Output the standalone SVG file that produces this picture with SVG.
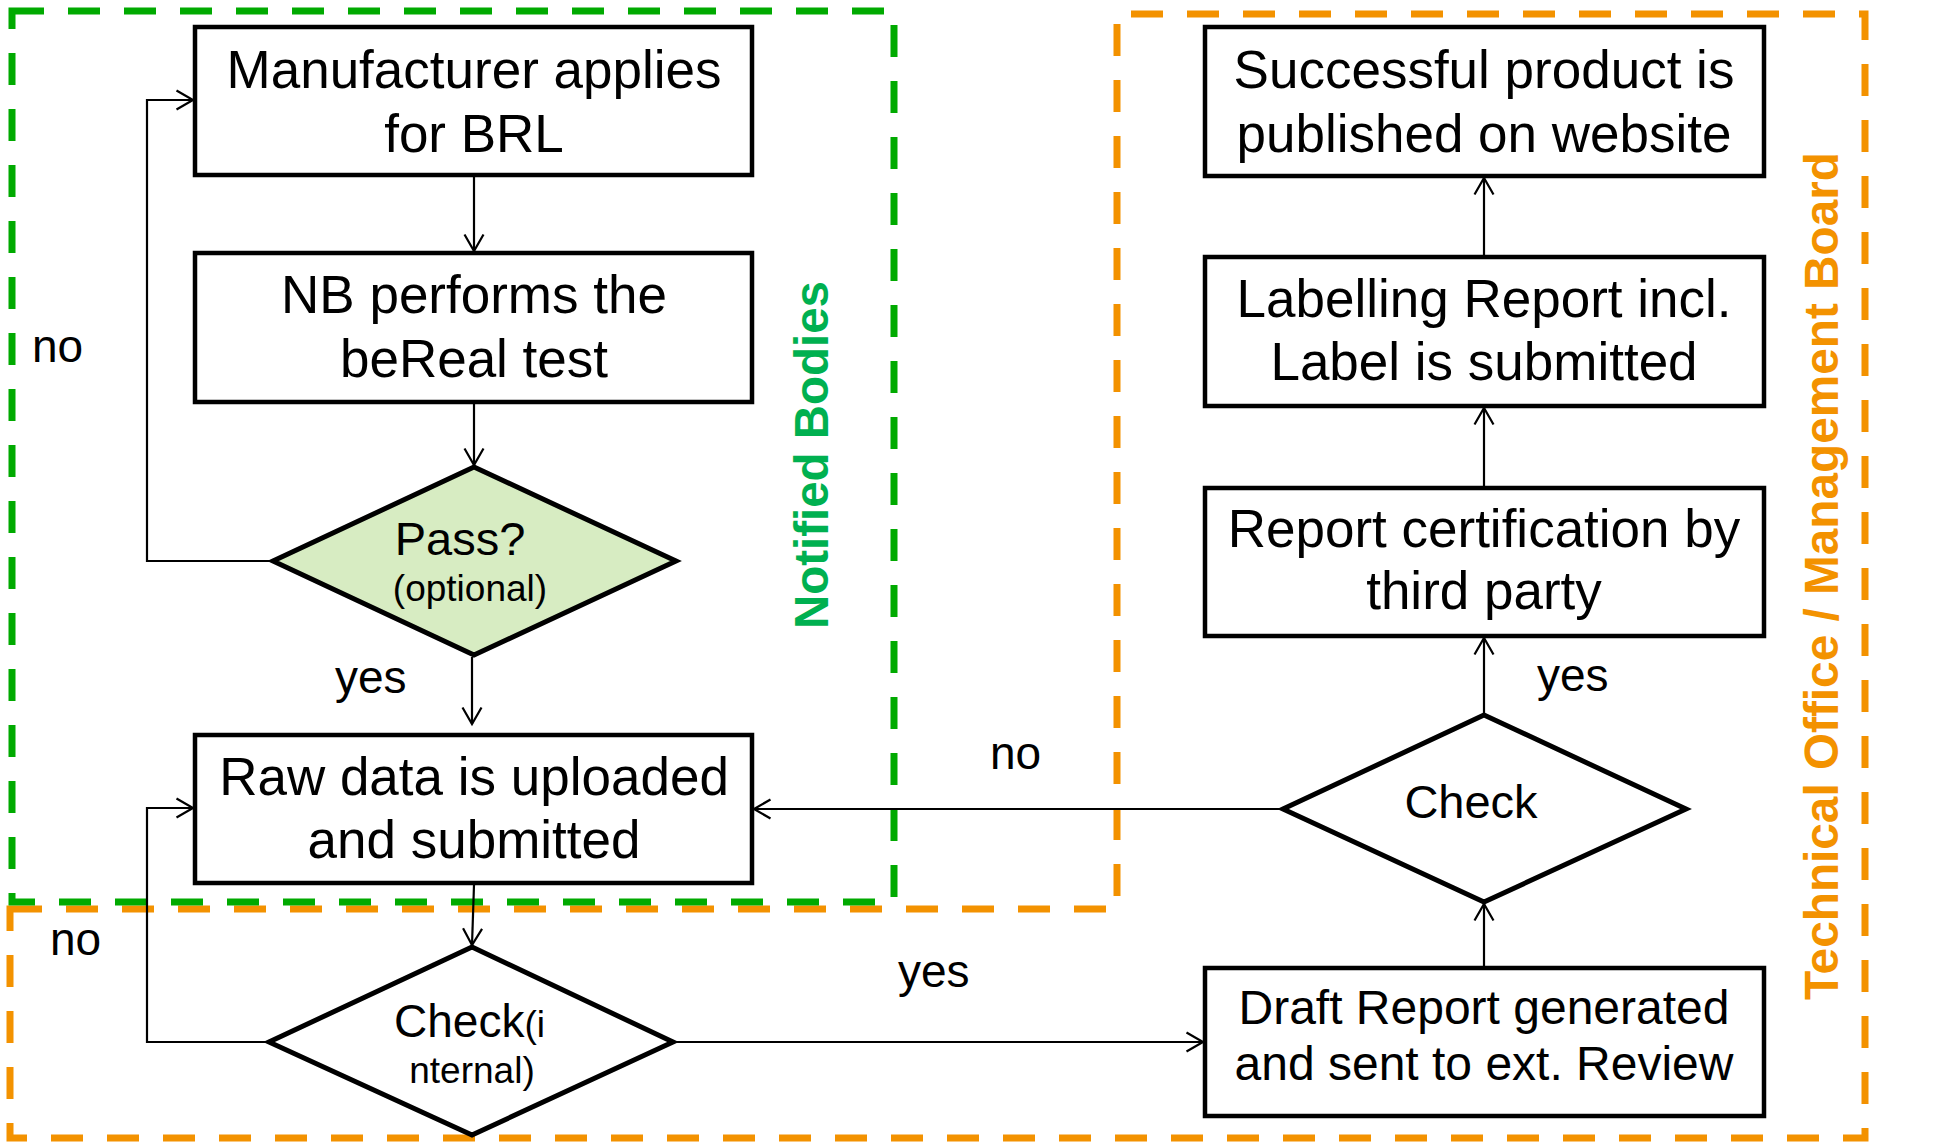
<svg xmlns="http://www.w3.org/2000/svg" width="1960" height="1144" viewBox="0 0 1960 1144">
  <style>
    .box { fill: #ffffff; stroke: #000000; stroke-width: 4.5; }
    .dia { fill: #ffffff; stroke: #000000; stroke-width: 5; stroke-linejoin: miter; }
    .dia-green { fill: #D7ECC2; }
    .conn { fill: none; stroke: #000000; stroke-width: 2.2; marker-end: url(#arrow); }
    .t { font-family: "Liberation Sans", Arial, sans-serif; fill: #000000; }
    .node-text { font-size: 53px; text-anchor: middle; }
    .lbl { font-size: 46px; }
    .zone { fill: none; stroke-width: 7; stroke-dasharray: 32 24; }
    .zone-nb { stroke: #00AA00; }
    .zone-to { stroke: #F39200; }
    .zone-title { font-family: "Liberation Sans", Arial, sans-serif; font-weight: bold; font-size: 48px; text-anchor: middle; }
  </style>
  <defs>
    <marker id="arrow" markerUnits="userSpaceOnUse" markerWidth="22" markerHeight="24" refX="18" refY="11" orient="auto">
      <path d="M1.5,1.5 L18,11 L1.5,20.5" fill="none" stroke="#000000" stroke-width="2.2"/>
    </marker>
  </defs>

  <!-- responsibility zones -->
  <g id="zones">
    <path class="zone zone-to" d="M10,909 H1117 V14 H1865 V1138 H10 Z"/>
    <rect class="zone zone-nb" x="12" y="11" width="882" height="891"/>
    <text class="zone-title" fill="#00B050" textLength="348" lengthAdjust="spacingAndGlyphs" transform="translate(828,455) rotate(-90)">Notified Bodies</text>
    <text class="zone-title" fill="#F39200" textLength="848" lengthAdjust="spacingAndGlyphs" transform="translate(1838,576) rotate(-90)">Technical Office / Management Board</text>
  </g>

  <!-- connectors -->
  <g id="connectors">
    <path class="conn" d="M474,177 V251"/>
    <path class="conn" d="M474,404 V465"/>
    <path class="conn" d="M472,657 V724"/>
    <path class="conn" d="M273,561 H147 V100 H193"/>
    <path class="conn" d="M474,885 L472,945"/>
    <path class="conn" d="M269,1042 H147 V808 H193"/>
    <path class="conn" d="M673,1042 H1203"/>
    <path class="conn" d="M1484,966 V904"/>
    <path class="conn" d="M1484,713 V638"/>
    <path class="conn" d="M1484,486 V408"/>
    <path class="conn" d="M1484,255 V178"/>
    <path class="conn" d="M1283,809 H754"/>
    <text class="t lbl" x="32" y="362">no</text>
    <text class="t lbl" x="335" y="693">yes</text>
    <text class="t lbl" x="50" y="955">no</text>
    <text class="t lbl" x="898" y="987">yes</text>
    <text class="t lbl" x="990" y="769">no</text>
    <text class="t lbl" x="1537" y="691">yes</text>
  </g>

  <!-- Notified Bodies steps -->
  <g id="apply">
    <rect class="box" x="195" y="27" width="557" height="148"/>
    <text class="t node-text" x="474" y="88">Manufacturer applies</text>
    <text class="t node-text" x="474" y="152">for BRL</text>
  </g>
  <g id="test">
    <rect class="box" x="195" y="253" width="557" height="149"/>
    <text class="t node-text" x="474" y="313">NB performs the</text>
    <text class="t node-text" x="474" y="377">beReal test</text>
  </g>
  <g id="pass">
    <polygon class="dia dia-green" points="474,467 676,561 474,655 273,561"/>
    <text class="t" x="460" y="555" font-size="47" text-anchor="middle">Pass?</text>
    <text class="t" x="470" y="601" font-size="37" text-anchor="middle">(optional)</text>
  </g>
  <g id="upload">
    <rect class="box" x="195" y="735" width="557" height="148"/>
    <text class="t node-text" x="474" y="795">Raw data is uploaded</text>
    <text class="t node-text" x="474" y="858">and submitted</text>
  </g>

  <!-- Technical Office steps -->
  <g id="check-internal">
    <polygon class="dia" points="472,947 673,1042 472,1135 269,1042"/>
    <text class="t" x="394" y="1037" font-size="46">Check<tspan font-size="37">(i</tspan></text>
    <text class="t" x="472" y="1083" font-size="37" text-anchor="middle">nternal)</text>
  </g>
  <g id="draft">
    <rect class="box" x="1205" y="968" width="559" height="148"/>
    <text class="t" x="1484" y="1024" font-size="48" text-anchor="middle">Draft Report generated</text>
    <text class="t" x="1484" y="1080" font-size="48" text-anchor="middle">and sent to ext. Review</text>
  </g>
  <g id="check">
    <polygon class="dia" points="1484,715 1686,809 1484,902 1283,809"/>
    <text class="t" x="1471" y="818" font-size="47" text-anchor="middle">Check</text>
  </g>
  <g id="certification">
    <rect class="box" x="1205" y="488" width="559" height="148"/>
    <text class="t node-text" x="1484" y="547">Report certification by</text>
    <text class="t node-text" x="1484" y="609">third party</text>
  </g>
  <g id="labelling">
    <rect class="box" x="1205" y="257" width="559" height="149"/>
    <text class="t node-text" x="1484" y="317">Labelling Report incl.</text>
    <text class="t node-text" x="1484" y="380">Label is submitted</text>
  </g>
  <g id="published">
    <rect class="box" x="1205" y="27" width="559" height="149"/>
    <text class="t node-text" x="1484" y="88">Successful product is</text>
    <text class="t node-text" x="1484" y="152">published on website</text>
  </g>
</svg>
